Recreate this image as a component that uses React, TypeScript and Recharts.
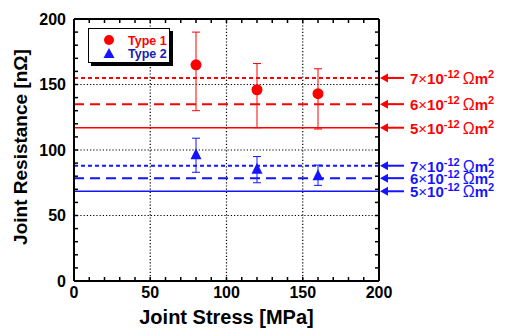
import {
  ScatterChart,
  Scatter,
  XAxis,
  YAxis,
  CartesianGrid,
  ReferenceLine,
  ErrorBar,
  Legend,
} from 'recharts'

const FONT = '"Liberation Sans", Arial, sans-serif'
const RED = '#ff0000'
const BLUE = '#1414ff'

// joint stress [MPa] and measured resistance [nΩ]
const stress = [80, 120, 160]
const type1 = [165, 146, 143]
const type1Upper = [190, 166, 162]
const type1Lower = [130, 117, 116]
const type2 = [96, 85, 80]
const type2Upper = [109, 95, 88.5]
const type2Lower = [83, 75, 73]

// expected resistance for a given specific joint resistivity
const rhoFactors = [7, 6, 5]
const type1Lines = [155, 135, 117]
const type2Lines = [88, 78.5, 68.5]

const xTicks = [0, 50, 100, 150, 200]
const yTicks = [0, 50, 100, 150, 200]
const minorTicks = [0, 10, 20, 30, 40, 50, 60, 70, 80, 90, 100, 110, 120, 130, 140, 150, 160, 170, 180, 190, 200]

const lineDash = ['4 3', '10 6', undefined]
const lineWidth = [2, 2, 1.5]

const toPoints = (ys: number[], hi: number[], lo: number[]) =>
  stress.map((x, i) => ({ x, y: ys[i], err: [ys[i] - lo[i], hi[i] - ys[i]] }))

const type1Data = toPoints(type1, type1Upper, type1Lower)
const type2Data = toPoints(type2, type2Upper, type2Lower)

const CircleMark = (p: any) => <circle cx={p.cx} cy={p.cy} r={5.5} fill={RED} />

const TriangleMark = (p: any) => (
  <polygon
    points={`${p.cx},${p.cy - 7} ${p.cx - 5.5},${p.cy + 4} ${p.cx + 5.5},${p.cy + 4}`}
    fill={BLUE}
  />
)

// tick lines only, no labels / no marks
const Nothing = () => <g />

const makeNote = (m: number, color: string) => (props: any) => {
  const vb = props.viewBox
  if (!vb) return null
  const x = vb.x + vb.width
  const y = vb.y
  return (
    <g>
      <polygon points={`${x + 1},${y} ${x + 9},${y - 4.5} ${x + 9},${y + 4.5}`} fill={color} />
      <line x1={x + 8} y1={y} x2={x + 25} y2={y} stroke={color} strokeWidth={2} />
      <text x={x + 31} y={y + 6} fill={color} fontFamily={FONT} fontSize={15} fontWeight="bold">
        <tspan>{m}</tspan>
        <tspan fontWeight="normal">×</tspan>
        <tspan>10</tspan>
        <tspan dy={-6} fontSize={11}>-12</tspan>
        <tspan dy={6} dx={3} fontWeight="normal" fontSize={16}>Ω</tspan>
        <tspan>m</tspan>
        <tspan dy={-6} fontSize={11}>2</tspan>
      </text>
    </g>
  )
}

function LegendBox() {
  return (
    <div
      style={{
        position: 'relative',
        width: 80,
        height: 33,
        background: '#fff',
        border: '1px solid #000',
        boxShadow: '3px 3px 0 #000',
      }}
    >
      <svg width={80} height={33} style={{ position: 'absolute', left: 0, top: 0 }}>
        <circle cx={20} cy={11} r={5} fill={RED} />
        <polygon points="20,19 14.5,29 25.5,29" fill={BLUE} />
        <text x={39} y={15.5} fill={RED} fontFamily={FONT} fontSize={12.5} fontWeight="bold">Type 1</text>
        <text x={39} y={28.5} fill="#1a1ab4" fontFamily={FONT} fontSize={12.5} fontWeight="bold">Type 2</text>
      </svg>
    </div>
  )
}

const tickStyle = { fill: '#000', fontSize: 16, fontWeight: 'bold', fontFamily: FONT }
const frame = { stroke: '#000', strokeWidth: 2 }
const minorLine = { stroke: '#000', strokeWidth: 1.5 }

export default function App() {
  return (
    <div style={{ position: 'absolute', left: 0, top: 0, width: 507, height: 329, background: '#fff' }}>
      <ScatterChart width={507} height={329} margin={{ top: 19, right: 128, bottom: 0, left: 0 }}>
        <CartesianGrid stroke="#000" strokeDasharray="1.2 2" strokeWidth={1.2} />
        <XAxis
          type="number"
          dataKey="x"
          domain={[0, 200]}
          ticks={xTicks}
          tickLine={false}
          axisLine={frame}
          tick={tickStyle}
          tickSize={6}
          tickMargin={0}
          height={48}
          label={{
            content: (p: any) => (
              <text
                x={p.viewBox.x + p.viewBox.width / 2}
                y={p.viewBox.y + 43}
                textAnchor="middle"
                fontFamily={FONT}
                fontSize={20}
                fontWeight="bold"
                fill="#000"
              >
                Joint Stress [MPa]
              </text>
            ),
          }}
        />
        <XAxis
          xAxisId="minorBottom"
          type="number"
          dataKey="x"
          domain={[0, 200]}
          ticks={minorTicks}
          interval={0}
          orientation="bottom"
          mirror
          height={1}
          tick={Nothing}
          axisLine={false}
          tickLine={minorLine}
          tickSize={4}
        />
        <XAxis
          xAxisId="minorTop"
          type="number"
          dataKey="x"
          domain={[0, 200]}
          ticks={minorTicks}
          interval={0}
          orientation="top"
          mirror
          height={1}
          tick={Nothing}
          axisLine={frame}
          tickLine={minorLine}
          tickSize={4}
        />
        <YAxis
          type="number"
          dataKey="y"
          domain={[0, 200]}
          ticks={yTicks}
          tickLine={false}
          axisLine={frame}
          tick={tickStyle}
          width={74}
          label={{
            content: (p: any) => {
              const cx = p.viewBox.x + 20
              const cy = p.viewBox.y + p.viewBox.height / 2 - 3
              return (
                <text
                  x={cx}
                  y={cy}
                  transform={`rotate(-90 ${cx} ${cy})`}
                  textAnchor="middle"
                  dominantBaseline="central"
                  fontFamily={FONT}
                  fontSize={19}
                  fontWeight="bold"
                  fill="#000"
                >
                  Joint Resistance [nΩ]
                </text>
              )
            },
          }}
        />
        <YAxis
          yAxisId="minorLeft"
          type="number"
          dataKey="y"
          domain={[0, 200]}
          ticks={minorTicks}
          interval={0}
          orientation="left"
          mirror
          width={1}
          tick={Nothing}
          axisLine={false}
          tickLine={minorLine}
          tickSize={4}
        />
        <YAxis
          yAxisId="minorRight"
          type="number"
          dataKey="y"
          domain={[0, 200]}
          ticks={minorTicks}
          interval={0}
          orientation="right"
          mirror
          width={1}
          tick={Nothing}
          axisLine={frame}
          tickLine={minorLine}
          tickSize={4}
        />
        {type1Lines.map((v, i) => (
          <ReferenceLine
            key={`r${i}`}
            y={v}
            stroke={RED}
            strokeWidth={lineWidth[i]}
            strokeDasharray={lineDash[i]}
            label={{ content: makeNote(rhoFactors[i], RED) }}
          />
        ))}
        {type2Lines.map((v, i) => (
          <ReferenceLine
            key={`b${i}`}
            y={v}
            stroke={BLUE}
            strokeWidth={lineWidth[i]}
            strokeDasharray={lineDash[i]}
            label={{ content: makeNote(rhoFactors[i], BLUE) }}
          />
        ))}
        {/* invisible series so the tick-only axes get a scale */}
        <Scatter
          data={type1Data}
          xAxisId="minorBottom"
          yAxisId="minorLeft"
          shape={Nothing}
          legendType="none"
          isAnimationActive={false}
        />
        <Scatter
          data={type1Data}
          xAxisId="minorTop"
          yAxisId="minorRight"
          shape={Nothing}
          legendType="none"
          isAnimationActive={false}
        />
        <Scatter name="Type 1" data={type1Data} shape={CircleMark} isAnimationActive={false}>
          <ErrorBar dataKey="err" direction="y" width={4} stroke={RED} strokeWidth={1} />
        </Scatter>
        <Scatter name="Type 2" data={type2Data} shape={TriangleMark} isAnimationActive={false}>
          <ErrorBar dataKey="err" direction="y" width={4} stroke={BLUE} strokeWidth={1} />
        </Scatter>
        <Legend
          layout="horizontal"
          align="center"
          verticalAlign="middle"
          wrapperStyle={{ left: 88, top: 28, width: 'auto', height: 'auto' }}
          content={() => <LegendBox />}
        />
      </ScatterChart>
    </div>
  )
}
